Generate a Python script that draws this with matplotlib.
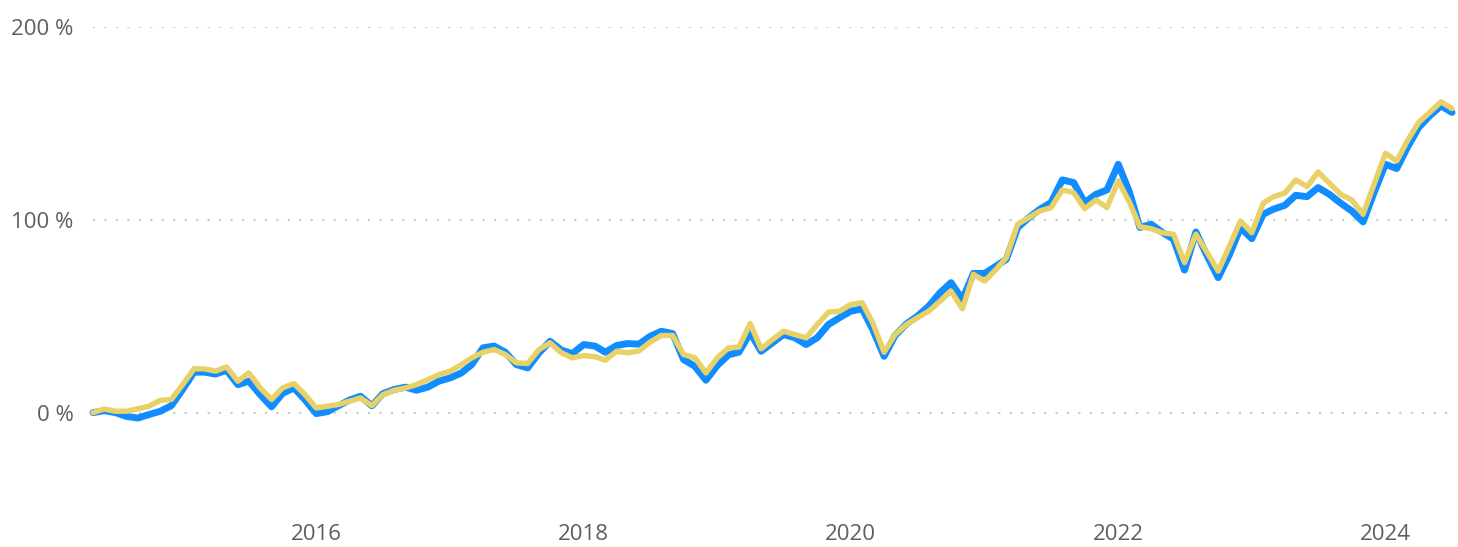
import matplotlib
matplotlib.use("Agg")
import matplotlib.pyplot as plt
import pandas as pd

start_month = "2014-05-01"
n_months = 123

blue_series = [
    0.0, 1.0, 0.0, -2.0, -2.8, -1.0, 0.7, 3.6, 12.0, 21.0,
    21.0, 20.0, 22.0, 14.5, 16.3, 9.3, 3.0, 10.0, 12.8, 6.7,
    -0.5, 0.5, 3.5, 6.5, 8.5, 3.5, 9.8, 12.0, 13.2, 11.6,
    13.2, 16.3, 18.0, 20.6, 24.9, 33.6, 34.5, 31.3, 24.9, 23.2,
    31.0, 37.0, 32.4, 30.6, 35.3, 34.5, 31.3, 34.8, 35.8, 35.5,
    39.5, 42.2, 41.0, 27.5, 24.0, 16.8, 24.4, 30.0, 31.3, 41.4,
    31.8, 36.2, 40.5, 38.8, 35.3, 38.8, 45.7, 49.2, 52.6, 53.8,
    43.1, 29.2, 40.0, 46.0, 50.0, 55.2, 62.2, 67.4, 58.7, 72.2,
    72.2, 76.0, 79.5, 95.9, 101.0, 105.5, 108.9, 120.7, 119.3, 108.9,
    113.2, 115.5, 128.8, 114.1, 96.0, 97.7, 93.5, 89.9, 73.9, 93.7,
    81.2, 70.0, 82.0, 95.9, 90.2, 102.9, 105.5, 107.5, 112.7, 112.0,
    116.7, 113.2, 108.6, 104.6, 98.9, 114.1, 128.8, 126.6, 137.5, 147.9,
    153.9, 159.1, 155.7,
]

yellow_series = [
    0.0, 1.9, 0.7, 0.7, 2.0, 3.3, 6.4, 6.8, 14.5, 22.7,
    22.7, 21.5, 23.7, 16.3, 20.6, 12.8, 6.8, 12.8, 15.1, 9.4,
    2.4, 3.3, 4.2, 5.9, 7.6, 3.6, 9.3, 11.6, 12.8, 14.5,
    17.1, 19.7, 21.5, 24.9, 28.4, 31.3, 32.7, 30.1, 25.8, 25.5,
    32.7, 36.2, 31.0, 28.4, 29.6, 29.0, 27.2, 31.8, 31.0, 32.0,
    36.5, 40.0, 40.0, 30.1, 28.4, 20.6, 28.4, 33.6, 34.0, 46.2,
    33.1, 37.9, 42.2, 40.5, 38.8, 45.7, 52.1, 52.6, 56.1, 57.0,
    46.6, 31.3, 40.5, 45.7, 49.2, 52.6, 57.8, 63.0, 53.8, 71.7,
    68.2, 74.3, 80.3, 97.7, 101.1, 104.6, 106.3, 115.5, 114.1, 105.8,
    110.3, 106.3, 120.2, 108.9, 96.4, 95.4, 93.3, 92.5, 77.8, 92.5,
    83.0, 73.4, 86.4, 99.4, 93.3, 108.6, 112.0, 113.8, 120.7, 117.2,
    124.8, 119.0, 113.2, 110.3, 102.9, 118.4, 134.5, 130.5, 141.0, 150.5,
    155.7, 161.2, 157.7,
]

y_ticks = [0, 100, 200]
y_tick_labels = ["0 %", "100 %", "200 %"]
x_tick_years = [2016, 2018, 2020, 2022, 2024]

dates = pd.date_range(start_month, periods=n_months, freq="MS")

plt.rcParams["font.family"] = ["Open Sans", "DejaVu Sans"]

fig = plt.figure(figsize=(14.58, 5.47), dpi=100)
ax = fig.add_axes([93 / 1458, 1 - 509 / 547, (1452 - 93) / 1458, (509 - 27) / 547])

ax.plot(dates, blue_series, color="#118DFF", linewidth=5.0,
        solid_joinstyle="round", solid_capstyle="round", zorder=3, clip_on=False)
ax.plot(dates, yellow_series, color="#E8D166", linewidth=3.9,
        solid_joinstyle="round", solid_capstyle="round", zorder=4, clip_on=False)

ax.set_ylim(-50, 200)
ax.set_xlim(dates[0], dates[-1])

ax.set_yticks(y_ticks)
ax.set_yticklabels(y_tick_labels)
ax.set_xticks([pd.Timestamp(f"{y}-01-01") for y in x_tick_years])
ax.set_xticklabels([str(y) for y in x_tick_years])

for yv in y_ticks:
    ax.axhline(yv, color="#C8C8C8", linewidth=1.5, linestyle=(0, (1, 4.5)), zorder=1)

for s in ax.spines.values():
    s.set_visible(False)
ax.tick_params(axis="both", length=0, labelsize=16, labelcolor="#605E5C")
ax.tick_params(axis="y", pad=14)
ax.tick_params(axis="x", pad=11)

fig.savefig("out.png", dpi=100)
